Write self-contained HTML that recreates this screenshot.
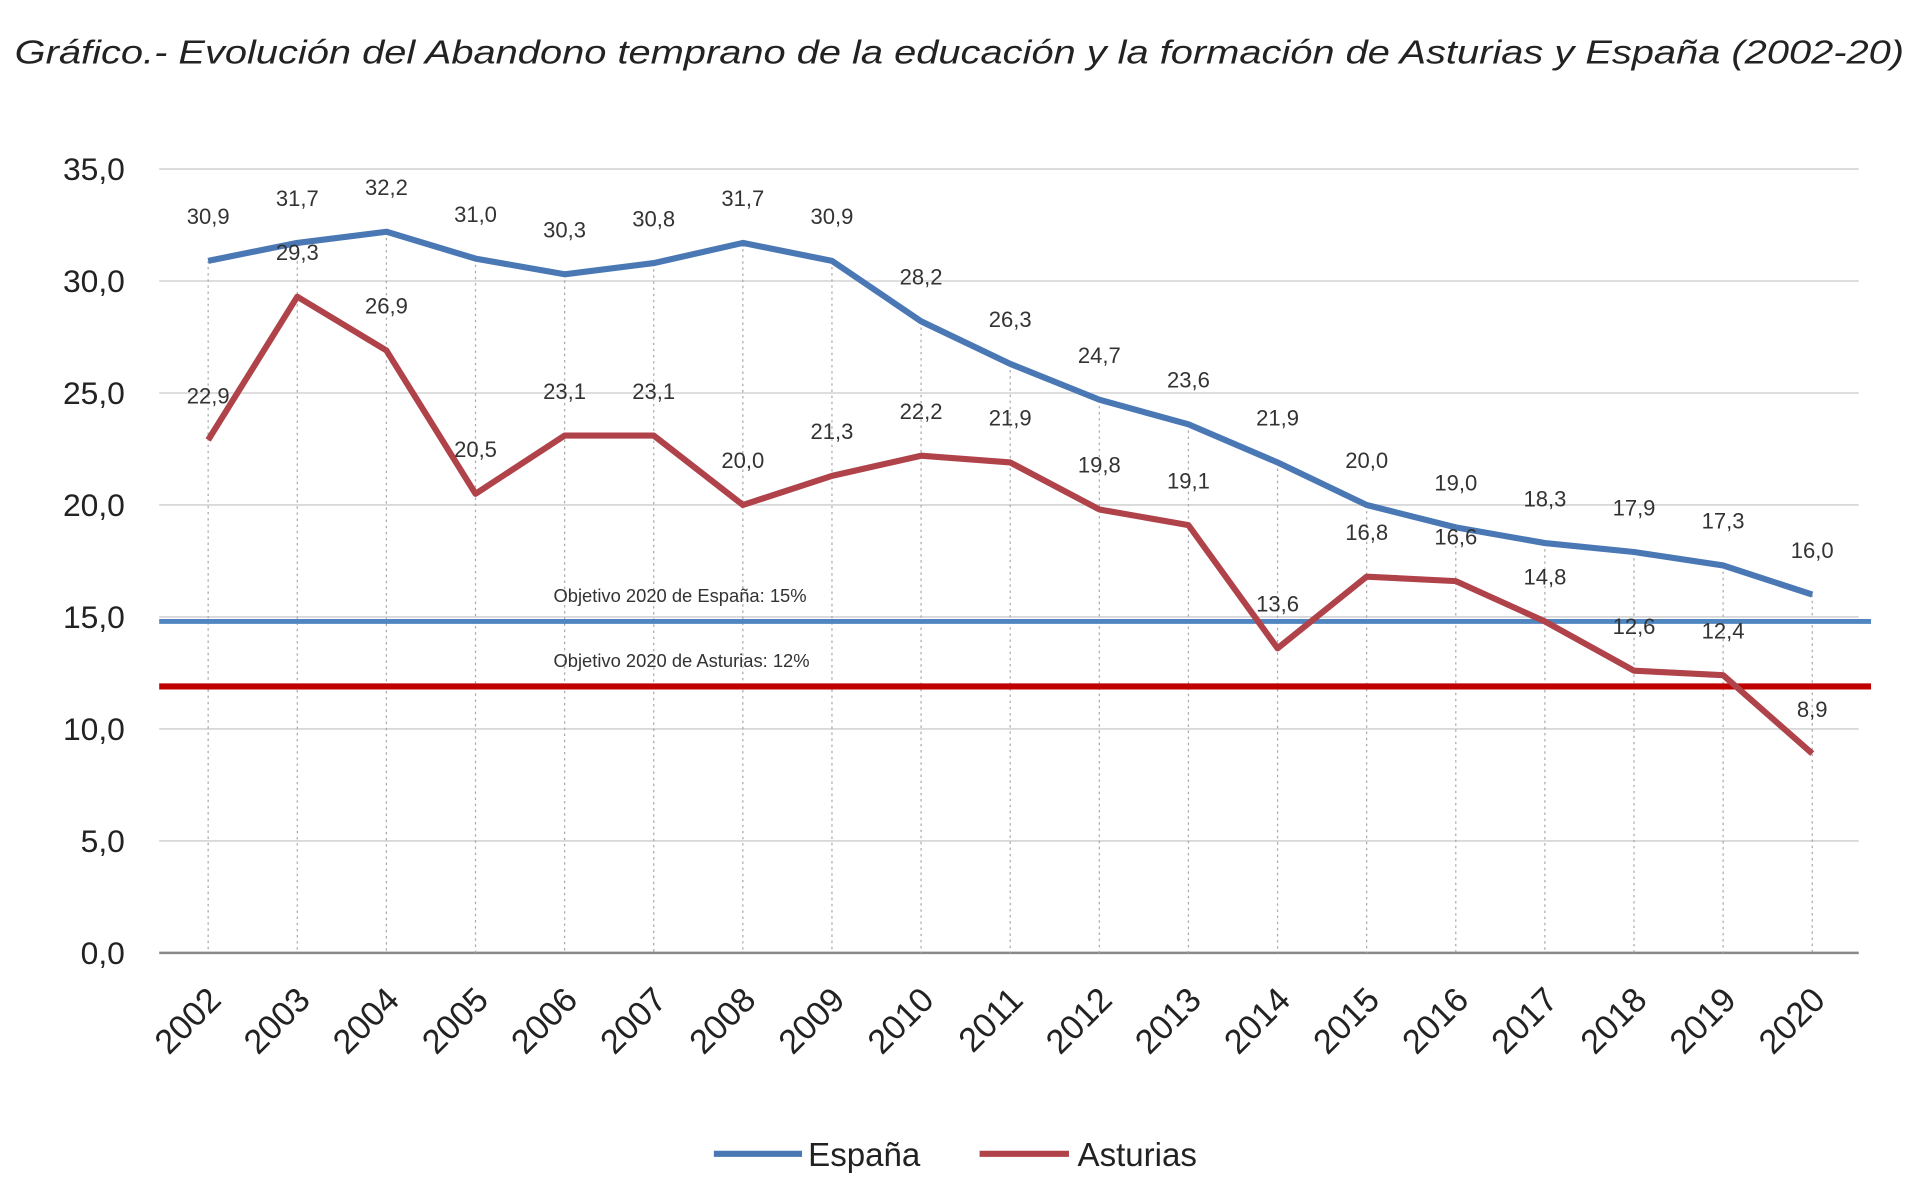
<!DOCTYPE html>
<html><head><meta charset="utf-8"><style>
html,body{margin:0;padding:0;background:#fff;}
svg{display:block;font-family:"Liberation Sans",sans-serif;}
</style></head><body>
<svg id="chart" width="1920" height="1204" viewBox="0 0 1568 983" preserveAspectRatio="none" xmlns="http://www.w3.org/2000/svg">
<text x="12" y="52" font-size="27" font-style="italic" fill="#222" textLength="1543" lengthAdjust="spacingAndGlyphs">Gráfico.- Evolución del Abandono temprano de la educación y la formación de Asturias y España (2002-20)</text>
<g id="grid"></g>
<g id="drops"></g>
<g id="targets"></g>
<g id="lines"></g>
<g id="labels"></g>
<g id="axes"></g>
<g>
<line x1="583" y1="942" x2="655" y2="942" stroke="#4a78b4" stroke-width="5"/>
<text x="660" y="952" font-size="27" fill="#222">España</text>
<line x1="800" y1="942" x2="873" y2="942" stroke="#b0424a" stroke-width="5"/>
<text x="880" y="952" font-size="27" fill="#222">Asturias</text>
</g>
</svg>
<script>
const years=[2002,2003,2004,2005,2006,2007,2008,2009,2010,2011,2012,2013,2014,2015,2016,2017,2018,2019,2020];
const espana=[30.9,31.7,32.2,31.0,30.3,30.8,31.7,30.9,28.2,26.3,24.7,23.6,21.9,20.0,19.0,18.3,17.9,17.3,16.0];
const asturias=[22.9,29.3,26.9,20.5,23.1,23.1,20.0,21.3,22.2,21.9,19.8,19.1,13.6,16.8,16.6,14.8,12.6,12.4,8.9];
const yTicks=[0,5,10,15,20,25,30,35];
const targetEspana=14.8, targetAsturias=11.9;
const NS="http://www.w3.org/2000/svg";
const x=i=>170+i*(1310/18);
const y=v=>778-v*(640/35);
function mk(tag,attrs,parent,txt){const e=document.createElementNS(NS,tag);for(const k in attrs)e.setAttribute(k,attrs[k]);if(txt!==undefined)e.textContent=txt;document.getElementById(parent).appendChild(e);return e;}
const fmt=v=>v.toFixed(1).replace('.',',');
yTicks.forEach(t=>{
 const g=mk('line',{x1:130,x2:1518,y1:y(t),y2:y(t),stroke:t===0?'#888':'#d9d9d9','stroke-width':t===0?2:1.5},'grid');
 
 
 const l=mk('text',{x:102,y:y(t)+9,'font-size':26,'text-anchor':'end',fill:'#222'},'axes',fmt(t));
 
 
});
years.forEach((yr,i)=>{
 const top=Math.min(y(espana[i]),y(asturias[i]));
 const d=mk('line',{x1:x(i),x2:x(i),y1:top,y2:778,stroke:'#aaa','stroke-width':1,'stroke-dasharray':'2,3'},'drops');
 
 
 const t=mk('text',{x:0,y:0,'font-size':28,'text-anchor':'end',fill:'#222',transform:`translate(${x(i)+12},${818}) rotate(-45)`},'axes',yr);
 
 
});
const te=mk('line',{x1:130,x2:1528,y1:y(targetEspana),y2:y(targetEspana),stroke:'#4f86c0','stroke-width':4},'targets');


const ta=mk('line',{x1:130,x2:1528,y1:y(targetAsturias),y2:y(targetAsturias),stroke:'#c00000','stroke-width':5},'targets');


const tt1=mk('text',{x:452,y:y(targetEspana)-16,'font-size':15,fill:'#333'},'targets','Objetivo 2020 de España: 15%');


const tt2=mk('text',{x:452,y:y(targetAsturias)-16,'font-size':15,fill:'#333'},'targets','Objetivo 2020 de Asturias: 12%');


function series(data,color,name){
 const p=mk('polyline',{points:data.map((v,i)=>x(i)+','+y(v)).join(' '),fill:'none',stroke:color,'stroke-width':5,'stroke-linejoin':'round'},'lines');
 
 
 data.forEach((v,i)=>{
  const l=mk('text',{x:x(i),y:y(v)-30,'font-size':18,'text-anchor':'middle',fill:'#333'},'labels',fmt(v));
  
  
 });
}
series(espana,'#4a78b4','espana');
series(asturias,'#b0424a','asturias');
</script>
</body></html>
